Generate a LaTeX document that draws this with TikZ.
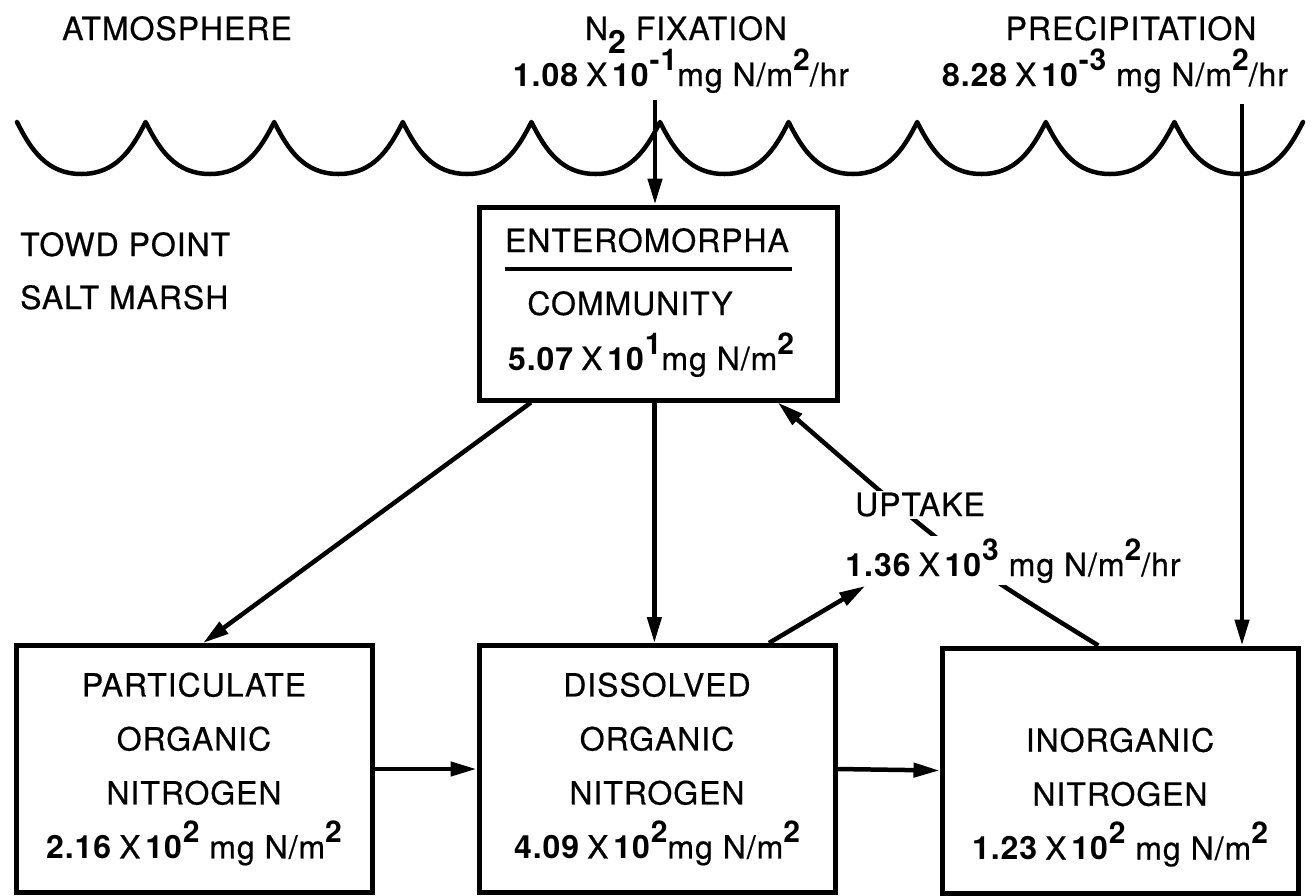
\documentclass[tikz,border=0pt]{standalone}
\usepackage{fontspec}
\setmainfont{TeX Gyre Heros}[LetterSpace=3, UprightFeatures={FakeBold=0.5}]
\usetikzlibrary{arrows.meta,calc}
\newcommand\expo[1]{\raisebox{0.5em}{\fontsize{30}{30}\selectfont\bfseries #1}}
\newcommand\sci[2]{\textbf{#1}\hspace{0.22em}X\hspace{0.12em}\textbf{10}\expo{#2}}
\begin{document}
\begin{tikzpicture}[x=1pt,y=-1pt,
  every node/.style={font=\fontsize{32}{54}\selectfont, inner sep=0pt},
  box/.style={draw, line width=5pt, minimum width=356pt, minimum height=247pt, align=center},
  flow/.style={line width=4.5pt, -{Triangle[length=26pt,width=14pt]}},
  wave/.style={line width=4.5pt, line join=round, line cap=round},
  lbl/.style={anchor=base},
  cut/.style={anchor=base, fill=white, inner sep=2pt}]
\useasboundingbox (0,0) rectangle (1312,895);

% surface
\draw[wave] (17,122) \foreach \a in {17,145.6,274.2,402.8,531.4,660,788.6,917.2,1045.8,1174.4} {
  .. controls ({\a+14},150) and ({\a+30},174) .. ({\a+64.3},174)
  .. controls ({\a+98.6},174) and ({\a+114.6},150) .. ({\a+128.6},122) };

% labels
\node[lbl, anchor=base west] (atm) at (62,40) {ATMOSPHERE};
\node[lbl] (fix) at (686,40) {N\raisebox{-0.43em}{\bfseries 2} FIXATION};
\node[lbl] (fixr) at (681,86) {\sci{1.08}{-1}mg N/m\expo{2}/hr};
\node[lbl] (pre) at (1131,40) {PRECIPITATION};
\node[lbl] (prer) at (1115,86) {\sci{8.28}{-3} mg N/m\expo{2}/hr};
\node[lbl, anchor=base west] (towd) at (20,256) {TOWD POINT};
\node[lbl, anchor=base west] (salt) at (20,309) {SALT MARSH};

% boxes
\node[box, minimum width=358pt, minimum height=193pt] (ent) at (658,303.5) {};
\node[lbl] (entA) at (647,252) {ENTEROMORPHA};
\draw[line width=3.5pt] ($(entA.base west)+(0,17)$) -- ($(entA.base east)+(3,17)$);
\node[lbl] (entB) at (630,315) {COMMUNITY};
\node[lbl] (entC) at (651,370) {\sci{5.07}{1}mg N/m\expo{2}};

\node[box] (pon) at (194,769) {PARTICULATE\\ORGANIC\\NITROGEN\\\sci{2.16}{2} mg N/m\expo{2}};
\node[box] (don) at (657,769) {DISSOLVED\\ORGANIC\\NITROGEN\\\sci{4.09}{2}mg N/m\expo{2}};
\node[box, minimum height=245pt] (ino) at (1120,770.5) {\vphantom{P}\\INORGANIC\\NITROGEN\\\sci{1.23}{2} mg N/m\expo{2}};

% inputs
\coordinate (fixend) at (655,100);
\coordinate (preend) at (1242,104);
\draw[flow] (fixend) -- (fixend |- ent.north);
\draw[flow] (preend) -- (preend |- ino.north);

% flows
\coordinate (e1) at ($(ent.south west)!0.15!(ent.south east)$);
\draw[flow] (e1) -- ($(pon.north west)!0.525!(pon.north east)$);
\coordinate (e2) at ($(ent.south west)!0.49!(ent.south east)$);
\draw[flow] (e2) -- (e2 |- don.north);
\draw[flow] (pon.east) -- (don.west);
\draw[flow] (don.east) -- (ino.west);

% uptake
\draw[flow] ($(ino.north west)!0.44!(ino.north east)$) .. controls (958,559) .. ($(ent.south west)!0.83!(ent.south east)$);
\node[cut] (upt) at (920,516) {UPTAKE};
\node[cut] (upr) at (1013,576) {\sci{1.36}{3} mg N/m\expo{2}/hr};
\coordinate (d1) at ($(don.north west)!0.81!(don.north east)$);
\draw[flow] (d1) -- ($(upr.base west)+(22,10)$);
\end{tikzpicture}
\end{document}
